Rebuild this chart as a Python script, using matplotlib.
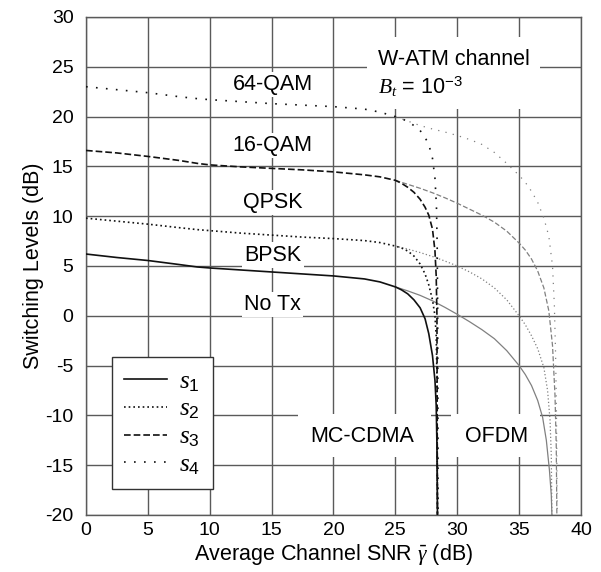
import matplotlib
matplotlib.use('Agg')
from matplotlib import pyplot as plt
from matplotlib.patches import Rectangle

plt.rcParams['font.family'] = ['Liberation Sans', 'DejaVu Sans']
plt.rcParams['mathtext.fontset'] = 'custom'
plt.rcParams['mathtext.rm'] = 'Liberation Sans'
plt.rcParams['mathtext.it'] = 'Liberation Serif:italic'
plt.rcParams['mathtext.bf'] = 'Liberation Sans:bold'
plt.rcParams['axes.unicode_minus'] = False

# switching levels (dB); both systems share the curve up to ~25 dB
snr_common = [0, 2.5, 5, 7.5, 9, 10, 12.5, 15, 17.5, 20, 22.5, 23.75, 25]
s1_common = [6.2, 5.85, 5.55, 5.15, 4.9, 4.8, 4.6, 4.4, 4.2, 4.0, 3.7, 3.4, 2.9]
s2_common = [9.8, 9.5, 9.2, 8.85, 8.65, 8.55, 8.3, 8.1, 7.9, 7.75, 7.55, 7.35, 7.0]
s3_common = [16.6, 16.35, 16.0, 15.6, 15.3, 15.15, 14.95, 14.8, 14.65, 14.45, 14.15, 13.95, 13.6]
s4_common = [23.0, 22.7, 22.4, 22.0, 21.8, 21.7, 21.5, 21.3, 21.15, 21.0, 20.75, 20.45, 20.0]

# MC-CDMA tails (drop at ~28.4 dB)
mc_snr = [25.5, 26.0, 26.5, 27.0, 27.4, 27.7, 28.0, 28.2, 28.3, 28.36, 28.4]
mc_s1 = [2.6, 2.2, 1.6, 0.8, -0.3, -1.8, -4.0, -6.5, -9.0, -13.0, -20.0]
mc_s2 = [6.8, 6.5, 6.0, 5.2, 4.2, 3.1, 1.6, 0.0, -2.0, -6.0, -20.0]
mc_s3 = [13.3, 12.9, 12.4, 11.7, 10.9, 10.1, 8.7, 6.5, 4.0, 0.0, -20.0]
mc_s4_snr = [25.5, 26.0, 26.5, 27.0, 27.4, 27.7, 28.0, 28.2, 28.32, 28.38, 28.42, 28.44, 28.45]
mc_s4 = [19.8, 19.5, 19.1, 18.6, 17.9, 17.2, 15.8, 13.8, 11.0, 7.0, 0.0, -10.0, -20.0]

# OFDM tails (drop at ~38 dB)
of_s1_snr = [26, 27, 28, 29, 30, 31, 32, 33, 34, 35, 35.5, 36, 36.5, 36.9, 37.2, 37.45, 37.6, 37.65]
of_s1 = [2.5, 2.05, 1.5, 0.85, 0.15, -0.6, -1.4, -2.3, -3.5, -5.0, -5.9, -7.0, -8.5, -10.2, -12.5, -15.5, -18.0, -20.0]
of_s2_snr = [26, 27, 28, 29, 30, 31, 32, 33, 34, 35, 35.5, 36, 36.5, 37, 37.3, 37.5, 37.6, 37.65]
of_s2 = [6.7, 6.35, 5.95, 5.5, 5.0, 4.4, 3.7, 2.8, 1.6, 0.0, -0.9, -2.0, -3.3, -5.2, -7.5, -10.5, -14.0, -20.0]
of_s3_snr = [26, 27, 28, 29, 30, 31, 32, 33, 34, 35, 35.5, 36, 36.5, 37, 37.4, 37.7, 37.9, 38.0, 38.05]
of_s3 = [13.2, 12.8, 12.35, 11.85, 11.3, 10.7, 10.1, 9.4, 8.5, 7.3, 6.6, 5.7, 4.5, 2.8, 0.5, -3.0, -8.0, -13.0, -20.0]
of_s4_snr = [26, 27, 28, 29, 30, 31, 32, 33, 34, 35, 35.5, 36, 36.5, 37, 37.4, 37.7, 37.85, 37.95, 38.02, 38.08]
of_s4 = [19.55, 19.1, 18.75, 18.45, 18.1, 17.7, 17.2, 16.4, 15.3, 14.1, 13.4, 12.5, 11.4, 9.8, 8.0, 5.0, 1.0, -4.0, -10.0, -20.0]

mod_labels = ['64-QAM', '16-QAM', 'QPSK', 'BPSK', 'No Tx']
mod_label_y = [23.2, 17.1, 11.4, 6.1, 1.1]

styles = {
    's1': '-',
    's2': (0, (1, 1.8)),
    's3': (0, (4, 1.8)),
    's4': (0, (1, 5)),
}

fig = plt.figure(figsize=(6.01, 5.72), dpi=100)
ax = fig.add_axes([0.1431, 0.0997, 0.8236, 0.8706])

mc_data = [('s1', s1_common, mc_snr, mc_s1), ('s2', s2_common, mc_snr, mc_s2),
           ('s3', s3_common, mc_snr, mc_s3), ('s4', s4_common, mc_s4_snr, mc_s4)]
of_data = [('s1', s1_common, of_s1_snr, of_s1), ('s2', s2_common, of_s2_snr, of_s2),
           ('s3', s3_common, of_s3_snr, of_s3), ('s4', s4_common, of_s4_snr, of_s4)]

for name, common, tx, ty in of_data:
    ax.plot(snr_common[-1:] + tx, common[-1:] + ty, color='#808080', lw=0.9,
            linestyle=styles[name], zorder=3)

handles = []
for name, common, tx, ty in mc_data:
    h, = ax.plot(snr_common + tx, common + ty, color='#111111', lw=1.2,
                 linestyle=styles[name], zorder=4)
    handles.append(h)

ax.set_xlim(0, 40)
ax.set_ylim(-20, 30)
ax.set_xticks(range(0, 41, 5))
ax.set_yticks(range(-20, 31, 5))
ax.set_axisbelow(True)
ax.grid(True, color='#5a5a5a', lw=1.0)
ax.tick_params(length=0, labelsize=14)
ax.tick_params(axis='y', pad=9)
ax.tick_params(axis='x', pad=5)
for sp in ax.spines.values():
    sp.set_color('#5a5a5a')
    sp.set_linewidth(1.0)

ax.set_xlabel(r'Average Channel SNR $\bar{\gamma}$ (dB)', fontsize=15.5, labelpad=2)
ax.set_ylabel('Switching Levels (dB)', fontsize=15.5, labelpad=1)

for lab, yy in zip(mod_labels, mod_label_y):
    ax.text(15.1, yy, lab, fontsize=15.5, ha='center', va='center', zorder=2,
            bbox=dict(facecolor='white', edgecolor='none', pad=1.5))

# white areas behind annotations
ax.add_patch(Rectangle((22.7, 20.8), 14.0, 7.2, facecolor='white', edgecolor='none', zorder=1))
ax.add_patch(Rectangle((17.1, -14.2), 10.8, 4.35, facecolor='white', edgecolor='none', zorder=1))
ax.add_patch(Rectangle((29.5, -14.2), 7.2, 4.35, facecolor='white', edgecolor='none', zorder=1))

ax.text(23.6, 25.7, 'W-ATM channel', fontsize=15.5, va='center', zorder=2)
ax.text(23.6, 23.0, r'$B_t$ = 10$^{-3}$', fontsize=15.5, va='center', zorder=2)
ax.text(22.3, -12.1, 'MC-CDMA', fontsize=15.5, ha='center', va='center', zorder=2)
ax.text(33.2, -12.1, 'OFDM', fontsize=15.5, ha='center', va='center', zorder=2)

leg = ax.legend(handles, [r'$s_{\mathit{1}}$', r'$s_{\mathit{2}}$', r'$s_{\mathit{3}}$', r'$s_{\mathit{4}}$'],
                loc='lower left', bbox_to_anchor=(0.052, 0.052), borderaxespad=0,
                fontsize=18, handlelength=1.7, handletextpad=0.5, labelspacing=0.12,
                borderpad=0.5, fancybox=False, framealpha=1, edgecolor='#333333')
leg.get_frame().set_linewidth(1.0)
leg.set_zorder(5)

fig.savefig('out.png', dpi=100)
